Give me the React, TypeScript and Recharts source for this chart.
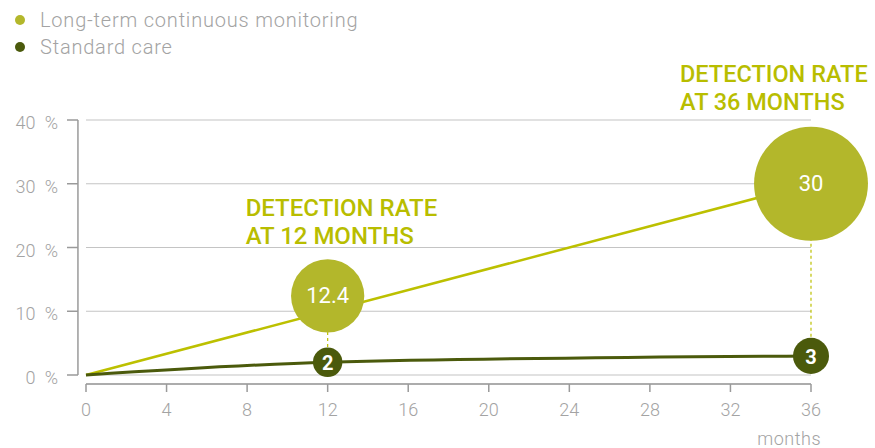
import {
  ComposedChart,
  Line,
  Scatter,
  XAxis,
  YAxis,
  CartesianGrid,
  ReferenceLine,
  Label,
} from 'recharts';

// ─── Data ────────────────────────────────────────────────────────────
const MONTH_TICKS = [0, 4, 8, 12, 16, 20, 24, 28, 32, 36];
const PERCENT_TICKS = [0, 10, 20, 30, 40];

const SERIES_NAMES = ['Long-term continuous monitoring', 'Standard care'];

// Line paths (month, rate %)
const LONG_TERM_MONTHS = [0, 36];
const LONG_TERM_LINE = [0, 30];
const STANDARD_MONTHS = [0, 12, 36];
const STANDARD_LINE = [0, 2, 3];

// Highlighted detection rates
const MARKER_MONTHS = [12, 36];
const LONG_TERM_RATES = [12.4, 30];
const STANDARD_RATES = [2, 3];
const CALLOUTS = [
  ['DETECTION RATE', 'AT 12 MONTHS'],
  ['DETECTION RATE', 'AT 36 MONTHS'],
];

// ─── Styles ──────────────────────────────────────────────────────────
const LIGHT = '#b3b72b';
const LIGHT_LINE = '#bcc000';
const LIGHT_TEXT = '#b8bd00';
const DARK = '#4b5a0c';
const AXIS = '#9a9a9a';
const GRID = '#c4c4c4';
const TICK_TEXT = '#a3a3a3';
const FONT = 'Roboto, "Open Sans", sans-serif';

const SERIES_COLORS = [LIGHT, DARK];
// bubble area proportional to the value
const RADIUS_UNIT = 10.4;
// callout text position relative to its bubble centre
const CALLOUT_OFFSETS = [
  { dx: -82, dy: -80, size: 24 },
  { dx: -131, dy: -102, size: 23.5 },
];
const Y_AXIS_LINE_AT = -0.4; // months, axis line sits a little left of 0

const longTermLine = LONG_TERM_MONTHS.map((m, i) => ({ m, v: LONG_TERM_LINE[i] }));
const standardLine = STANDARD_MONTHS.map((m, i) => ({ m, v: STANDARD_LINE[i] }));
const longTermMarkers = MARKER_MONTHS.map((m, i) => ({ m, v: LONG_TERM_RATES[i], idx: i }));
const standardMarkers = MARKER_MONTHS.map((m, i) => ({ m, v: STANDARD_RATES[i], idx: i }));

function LightBubble(props: any) {
  const { cx, cy, payload } = props;
  const r = RADIUS_UNIT * Math.sqrt(payload.v);
  const off = CALLOUT_OFFSETS[payload.idx];
  const lines = CALLOUTS[payload.idx];
  return (
    <g>
      <circle cx={cx} cy={cy} r={r} fill={LIGHT} />
      <text
        x={cx}
        y={cy}
        textAnchor="middle"
        dominantBaseline="central"
        fill="#fff"
        fontSize={22}
        fontFamily={FONT}
      >
        {String(payload.v)}
      </text>
      {lines.map((t, i) => (
        <text
          key={t}
          x={cx + off.dx}
          y={cy + off.dy + i * 28}
          fill={LIGHT_TEXT}
          fontSize={off.size}
          fontWeight={500}
          fontFamily={FONT}
        >
          {t}
        </text>
      ))}
    </g>
  );
}

function DarkDot(props: any) {
  const { cx, cy, payload } = props;
  const r = RADIUS_UNIT * Math.sqrt(payload.v);
  return (
    <g>
      <circle cx={cx} cy={cy} r={r} fill={DARK} />
      <text
        x={cx}
        y={cy + 1}
        textAnchor="middle"
        dominantBaseline="central"
        fill="#fff"
        fontSize={20}
        fontWeight={700}
        fontFamily={FONT}
      >
        {String(payload.v)}
      </text>
    </g>
  );
}

function PercentTick(props: any) {
  const { x, y, payload } = props;
  return (
    <g>
      <line x1={x - 11} x2={x} y1={y} y2={y} stroke={AXIS} strokeWidth={1.5} />
      <text
        x={x - 20}
        y={y + 9}
        textAnchor="end"
        fill={TICK_TEXT}
        fontSize={18}
        fontWeight={300}
        fontFamily={FONT}
      >
        {`${payload.value}\u2002%`}
      </text>
    </g>
  );
}

export default function App() {
  return (
    <div style={{ position: 'absolute', left: 0, top: 0, width: 875, height: 448, background: '#fff' }}>
      <div style={{ position: 'absolute', left: 0, top: 0, fontFamily: FONT }}>
        {SERIES_NAMES.map((name, i) => (
          <div
            key={name}
            style={{
              position: 'absolute',
              left: 15,
              top: 6 + i * 27,
              whiteSpace: 'nowrap',
              display: 'flex',
              alignItems: 'center',
              color: TICK_TEXT,
              fontSize: 20,
              fontWeight: 300,
              letterSpacing: '0.8px',
              lineHeight: '28px',
            }}
          >
            <span
              style={{
                display: 'inline-block',
                width: 10,
                height: 10,
                borderRadius: 5,
                background: SERIES_COLORS[i],
                marginRight: 15,
              }}
            />
            {name}
          </div>
        ))}
      </div>
      <ComposedChart width={875} height={448} margin={{ top: 120, right: 64, bottom: 0, left: 0 }}>
        <CartesianGrid vertical={false} stroke={GRID} strokeWidth={1.2} />
        <XAxis
          dataKey="m"
          type="number"
          domain={[0, 36]}
          ticks={MONTH_TICKS}
          height={64}
          stroke={AXIS}
          strokeWidth={1.5}
          tickSize={8}
          tickMargin={11}
          tick={{ fill: TICK_TEXT, fontSize: 18, fontWeight: 300, fontFamily: FONT }}
        >
          <Label
            content={({ viewBox }: any) => (
              <text
                x={viewBox.x + viewBox.width + 10}
                y={445}
                textAnchor="end"
                fill={TICK_TEXT}
                fontSize={18}
                fontWeight={300}
                letterSpacing={0.5}
                fontFamily={FONT}
              >
                months
              </text>
            )}
          />
        </XAxis>
        <YAxis
          dataKey="v"
          type="number"
          domain={[0, 40]}
          ticks={PERCENT_TICKS}
          width={86}
          padding={{ top: 0, bottom: 9 }}
          axisLine={false}
          tickLine={false}
          tick={<PercentTick />}
        />
        <ReferenceLine
          segment={[
            { x: Y_AXIS_LINE_AT, y: 0 },
            { x: Y_AXIS_LINE_AT, y: 40 },
          ]}
          stroke={AXIS}
          strokeWidth={1.5}
          ifOverflow="visible"
        />
        {MARKER_MONTHS.map((m, i) => (
          <ReferenceLine
            key={`conn-${m}`}
            segment={[
              { x: m, y: LONG_TERM_RATES[i] },
              { x: m, y: STANDARD_RATES[i] },
            ]}
            stroke={LIGHT_LINE}
            strokeWidth={1.2}
            strokeDasharray="3 3"
            ifOverflow="visible"
          />
        ))}
        <Line
          data={longTermLine}
          dataKey="v"
          type="linear"
          stroke={LIGHT_LINE}
          strokeWidth={2.5}
          dot={false}
          activeDot={false}
          isAnimationActive={false}
        />
        <Line
          data={standardLine}
          dataKey="v"
          type="monotone"
          stroke={DARK}
          strokeWidth={3}
          dot={false}
          activeDot={false}
          isAnimationActive={false}
        />
        <Scatter data={longTermMarkers} dataKey="v" shape={<LightBubble />} isAnimationActive={false} />
        <Scatter data={standardMarkers} dataKey="v" shape={<DarkDot />} isAnimationActive={false} />
      </ComposedChart>
    </div>
  );
}
